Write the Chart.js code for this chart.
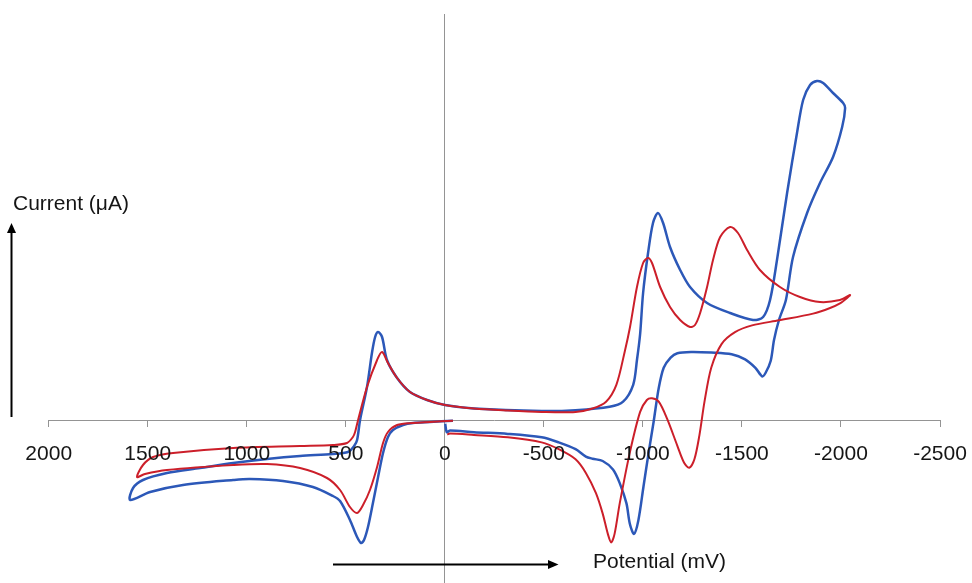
<!DOCTYPE html>
<html>
<head>
<meta charset="utf-8">
<script src="https://cdn.jsdelivr.net/npm/chart.js@4.4.1/dist/chart.umd.min.js"></script>
<style>
html,body{margin:0;padding:0;background:#fff;}
canvas{display:block;}
</style>
</head>
<body>
<canvas id="c" width="972" height="583"></canvas>
<script>
// ---- data (potential in mV, current in µA, arbitrary scale) ----
const xTickValues = [2000, 1500, 1000, 500, 0, -500, -1000, -1500, -2000, -2500];
const xTickLabels = ['2000', '1500', '1000', '500', '0', '-500', '-1000', '-1500', '-2000', '-2500'];
const xTitle = 'Potential (mV)';
const yTitle = 'Current (\u03bcA)';

const blueE = [
  -41, 75, 161, 211, 262, 287, 312, 337, 363, 388, 408, 423, 443, 479, 529, 565, 666, 817, 984, 1069, 1322, 1488, 1589,
  1574, 1524, 1403, 1236, 1069, 898, 731, 565, 489, 458, 443, 428, 393, 368, 352, 337, 317, 292,
  241, 176, 90, -1, -147, -489, -660, -832, -900, -951, -970, -986, -1001, -1026, -1051, -1076,
  -1102, -1137, -1188, -1238, -1324, -1440, -1556, -1607, -1642, -1677, -1728, -1778, -1809, -1844, -1879, -1910, -1960, -2011, -2021,
  -2006, -1960, -1894, -1829, -1758, -1722, -1687, -1662, -1645, -1619, -1602,
  -1568, -1516, -1448, -1345, -1243, -1174, -1140, -1105, -1080, -1054, -1029, -1003, -977, -955,
  -934, -917, -883, -849, -797, -746, -712, -660, -575, -489, -318, -147, -27, -10, -2
];
const blueI = [
  -0.02, -0.15, -0.25, -0.45, -0.95, -1.65, -3.25, -5.65, -8.25, -10.65, -11.95, -12.25, -11.65, -9.95, -8.05, -7.55, -6.65, -6.05, -5.85, -5.95, -6.45, -7.15, -7.95,
  -6.75, -5.95, -5.25, -4.75, -4.25, -3.85, -3.55, -3.35, -3.15, -2.55, -1.95, 0.05, 3.35, 6.75, 8.35, 8.85, 8.35, 6.05,
  4.25, 2.85, 2.05, 1.55, 1.2, 0.95, 1.03, 1.37, 1.88, 3.57, 6.05, 8.65, 12.75, 16.75, 19.75, 20.75,
  19.75, 17.35, 15.05, 13.35, 11.75, 10.75, 10.05, 10.35, 12.05, 16.05, 22.75, 28.75, 32.05, 33.55, 33.95, 33.75, 32.75, 31.75, 31.25,
  29.35, 26.35, 23.75, 20.75, 16.35, 12.05, 10.05, 8.05, 5.95, 4.75, 4.42,
  5.27, 6.12, 6.63, 6.8, 6.86, 6.73, 6.29, 5.27, 3.24, -0.15, -3.21, -6.6, -9.99, -11.34,
  -10.32, -8.29, -6.26, -4.9, -4.05, -3.82, -3.61, -2.87, -2.19, -1.68, -1.34, -1.17, -1.0, -1.17, -0.32
];

const redE = [
  -41, 75, 161, 241, 287, 312, 342, 378, 413, 443, 479, 529, 595, 731, 898, 1069, 1403, 1514, 1554,
  1524, 1473, 1372, 1069, 731, 565, 494, 464, 453, 438, 393, 342, 317, 287, 241, 176, 90, -1,
  -147, -318, -489, -660, -746, -814, -866, -909, -935, -970, -1001, -1026, -1046, -1087, -1137, -1188, -1238, -1263, -1289,
  -1324, -1354, -1390, -1440, -1480, -1526, -1591, -1692, -1793, -1894, -1995, -2046,
  -2031, -1995, -1945, -1859, -1687, -1551, -1465, -1397, -1345, -1311, -1285, -1260, -1234, -1208, -1174, -1122,
  -1080, -1046, -1020, -986, -934, -883, -857, -840, -823, -797, -763, -712, -660, -575, -489, -318, -147, -26, -12
];
const redI = [
  -0.02, -0.15, -0.25, -0.45, -1.15, -2.25, -4.65, -6.95, -8.45, -9.25, -8.65, -6.95, -5.75, -4.75, -4.35, -4.45, -4.95, -5.35, -5.65,
  -4.45, -3.65, -3.25, -2.75, -2.55, -2.45, -2.25, -1.65, -1.15, 0.05, 3.35, 6.05, 6.85, 5.75, 4.25, 2.85, 2.05, 1.55,
  1.2, 1.0, 0.86, 0.86, 1.2, 1.88, 3.57, 6.96, 9.35, 13.35, 15.75, 16.25, 15.75, 13.35, 11.35, 10.05, 9.35, 9.55, 10.75,
  13.35, 16.05, 18.35, 19.35, 18.75, 17.05, 15.05, 13.35, 12.35, 11.85, 12.05, 12.55,
  12.25, 11.71, 11.25, 10.69, 10.02, 9.51, 8.83, 7.64, 5.27, 1.88, -1.51, -3.88, -4.73, -4.22, -2.53, 0.18,
  1.88, 2.22, 2.05, 0.86, -3.21, -8.29, -11.34, -12.19, -11.34, -9.31, -7.27, -5.24, -3.88, -2.87, -2.19, -1.68, -1.44, -1.3, -1.4
];

const BLUE = '#2c58b8';
const RED = '#cc1f2a';
const AXIS = '#949494';
const TEXT = '#151515';
const FONT = '"Liberation Sans", Arial, sans-serif';

function toPoints(xs, ys) { return xs.map((x, i) => ({ x: x, y: ys[i] })); }

// tick labels drawn above the curves (as in the original figure)
const tickLabelsOnTop = {
  id: 'tickLabelsOnTop',
  afterDatasetsDraw(chart) {
    const ctx = chart.ctx;
    const xs = chart.scales.x, ys = chart.scales.y;
    const base = ys.getPixelForValue(0);
    ctx.save();
    ctx.fillStyle = TEXT;
    ctx.font = '21px ' + FONT;
    ctx.textAlign = 'center';
    ctx.textBaseline = 'alphabetic';
    xTickValues.forEach((v, i) => {
      ctx.fillText(xTickLabels[i], xs.getPixelForValue(v), base + 39.5);
    });
    ctx.restore();
  }
};

const annotations = {
  id: 'annotations',
  afterDraw(chart) {
    const ctx = chart.ctx;
    ctx.save();
    ctx.fillStyle = TEXT;
    ctx.strokeStyle = '#000';
    ctx.font = '21px ' + FONT;
    ctx.textBaseline = 'alphabetic';
    ctx.textAlign = 'left';
    ctx.fillText(yTitle, 13, 210);
    ctx.fillText(xTitle, 593, 567.5);
    // vertical arrow
    ctx.lineWidth = 2;
    ctx.beginPath();
    ctx.moveTo(11.5, 417);
    ctx.lineTo(11.5, 230);
    ctx.stroke();
    ctx.fillStyle = '#000';
    ctx.beginPath();
    ctx.moveTo(11.5, 223);
    ctx.lineTo(7, 233);
    ctx.lineTo(16, 233);
    ctx.closePath();
    ctx.fill();
    // horizontal arrow
    ctx.beginPath();
    ctx.moveTo(333, 564.5);
    ctx.lineTo(551, 564.5);
    ctx.stroke();
    ctx.beginPath();
    ctx.moveTo(558.5, 564.5);
    ctx.lineTo(548, 560);
    ctx.lineTo(548, 569);
    ctx.closePath();
    ctx.fill();
    ctx.restore();
  }
};

new Chart(document.getElementById('c').getContext('2d'), {
  type: 'scatter',
  data: {
    datasets: [
      { label: 'red', data: toPoints(redE, redI), showLine: true, borderColor: RED, backgroundColor: RED,
        borderWidth: 2, pointRadius: 0, tension: 0.3, fill: false },
      { label: 'blue', data: toPoints(blueE, blueI), showLine: true, borderColor: BLUE, backgroundColor: BLUE,
        borderWidth: 2.5, pointRadius: 0, tension: 0.3, fill: false }
    ]
  },
  options: {
    responsive: false,
    animation: false,
    events: [],
    layout: { padding: { left: 48.7, right: 32, top: 14, bottom: 0 } },
    plugins: { legend: { display: false }, tooltip: { enabled: false } },
    scales: {
      x: {
        type: 'linear', min: -2500, max: 2000, reverse: true,
        position: { y: 0 },
        afterBuildTicks: (scale) => { scale.ticks = xTickValues.map(v => ({ value: v })); },
        grid: { display: true, drawOnChartArea: false, drawTicks: true, tickLength: 6, color: AXIS, lineWidth: 1 },
        border: { display: true, color: AXIS, width: 1 },
        ticks: { display: false }
      },
      y: {
        type: 'linear', min: -16.25, max: 40.65,
        position: { x: 0 },
        grid: { display: false },
        border: { display: true, color: AXIS, width: 1 },
        ticks: { display: false }
      }
    }
  },
  plugins: [tickLabelsOnTop, annotations]
});
</script>
</body>
</html>
